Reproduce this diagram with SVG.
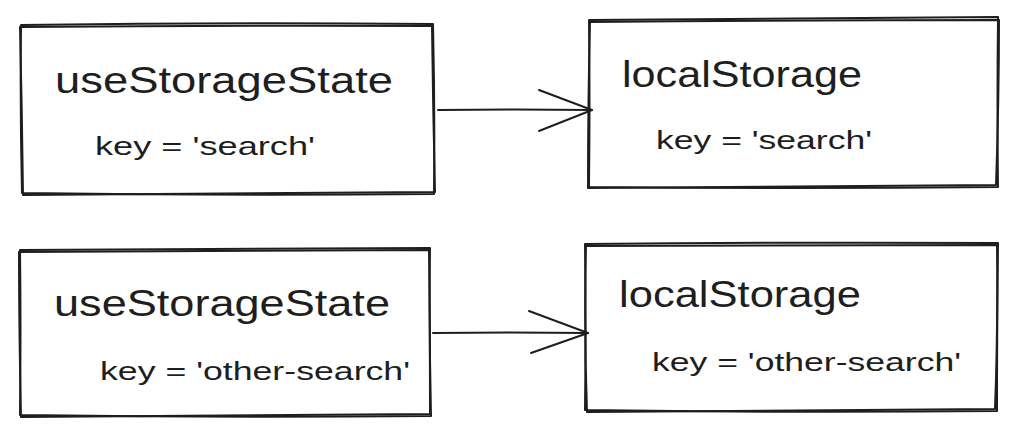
<svg xmlns="http://www.w3.org/2000/svg" width="1018" height="437" viewBox="0 0 1018 437">
<style>
.box{fill:none;stroke:#1e1e1e;stroke-width:2;stroke-linecap:round;stroke-linejoin:round}
.ln{fill:none;stroke:#1e1e1e;stroke-width:2;stroke-linecap:round;stroke-linejoin:round}
.t{font-family:"Liberation Sans","DejaVu Sans",sans-serif;fill:#1e1e1e}
.h{font-size:36px}
.k{font-size:26px}
</style>
<rect width="1018" height="437" fill="#ffffff"/>
<g id="node-use1">
<path class="box" d="M21 25 Q230 22 433 24 Q435 110 434 194 Q230 196 22 193 Q20 110 21 25"/>
<path class="box" d="M20 27 Q230 25 432 26 Q433 110 435 192 Q230 193 23 195 Q22 110 20 27" stroke-width="1.2"/>
<text class="t h" x="55" y="93" textLength="338" lengthAdjust="spacingAndGlyphs">useStorageState</text>
<text class="t k" x="95" y="155" textLength="220" lengthAdjust="spacingAndGlyphs">key = 'search'</text>
</g>
<g id="node-local1">
<path class="box" d="M589 20 Q790 18 998 17 Q997 100 998 187 Q790 189 589 187 Q590 100 589 20"/>
<path class="box" d="M590 22 Q790 20 999 20 Q999 100 996 185 Q790 186 588 188 Q588 100 590 22" stroke-width="1.2"/>
<text class="t h" x="622" y="87" textLength="240" lengthAdjust="spacingAndGlyphs">localStorage</text>
<text class="t k" x="656" y="149" textLength="216" lengthAdjust="spacingAndGlyphs">key = 'search'</text>
</g>
<g id="node-use2">
<path class="box" d="M20 250 Q225 249 430 248 Q429 330 431 416 Q225 418 20 415 Q21 330 20 250"/>
<path class="box" d="M19 252 Q225 251 429 250 Q430 330 430 414 Q225 415 21 417 Q19 330 19 252" stroke-width="1.2"/>
<text class="t h" x="54" y="316" textLength="336" lengthAdjust="spacingAndGlyphs">useStorageState</text>
<text class="t k" x="100" y="380" textLength="310" lengthAdjust="spacingAndGlyphs">key = 'other-search'</text>
</g>
<g id="node-local2">
<path class="box" d="M585 244 Q790 242 998 243 Q997 330 997 411 Q790 413 585 410 Q586 330 585 244"/>
<path class="box" d="M586 246 Q790 245 997 245 Q998 330 995 409 Q790 410 587 412 Q584 330 586 246" stroke-width="1.2"/>
<text class="t h" x="619" y="307" textLength="242" lengthAdjust="spacingAndGlyphs">localStorage</text>
<text class="t k" x="652" y="371" textLength="309" lengthAdjust="spacingAndGlyphs">key = 'other-search'</text>
</g>
<g id="connectors">
<path class="ln" d="M438 110 Q515 109 592 110"/>
<path class="ln" d="M539 90 L592 110 M539 131 L592 110"/>
<path class="ln" d="M433 333 Q510 332 588 333"/>
<path class="ln" d="M529 311 L588 333 M531 353 L588 333"/>
</g>
</svg>
